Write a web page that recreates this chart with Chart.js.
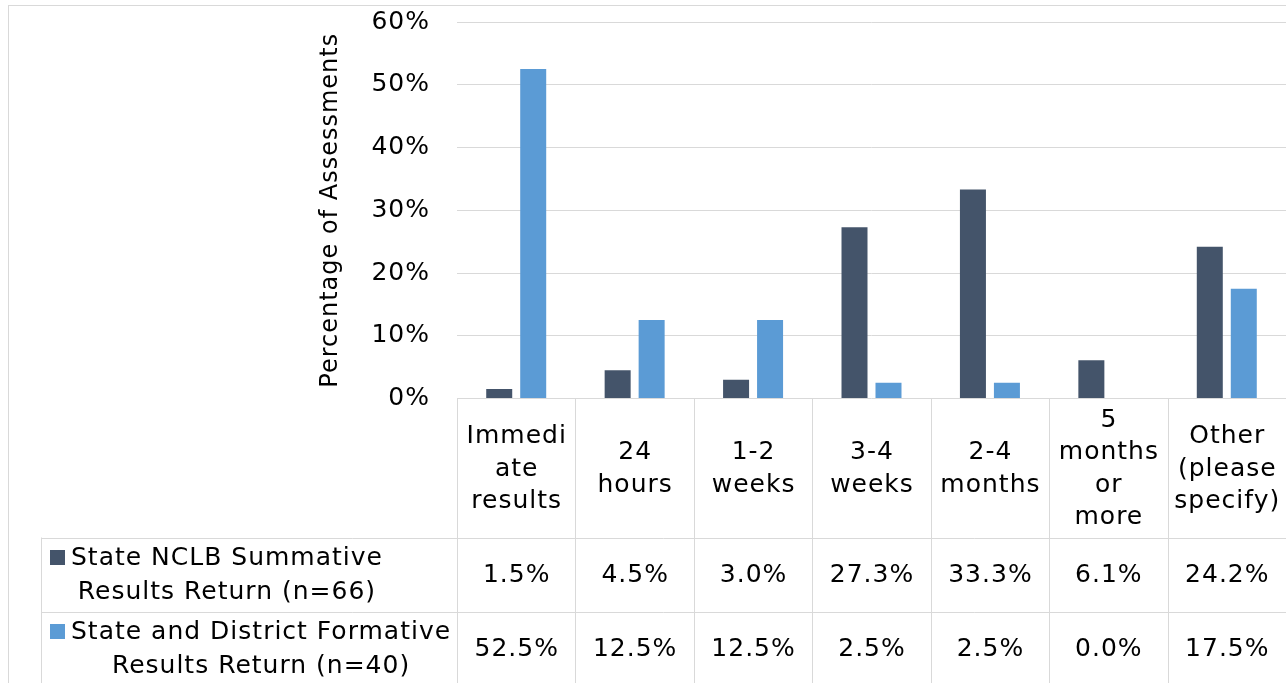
<!DOCTYPE html>
<html><head><meta charset="utf-8">
<script src="https://cdn.jsdelivr.net/npm/chart.js@4.4.1/dist/chart.umd.min.js"></script>
<style>html,body{margin:0;padding:0;background:#fff;overflow:hidden}#wrap{width:1286px;height:683px;position:relative}</style>
</head><body><div id="wrap"><canvas id="c" width="1286" height="683"></canvas></div>
<script>
const categories = [["Immedi","ate","results"],["24","hours"],["1-2","weeks"],["3-4","weeks"],["2-4","months"],["5","months","or","more"],["Other","(please","specify)"]];
const seriesNames = [["State NCLB Summative","Results Return (n=66)"],["State and District Formative","Results Return (n=40)"]];
const summativeValues = [1.5, 4.5, 3.0, 27.3, 33.3, 6.1, 24.2];
const formativeValues = [52.5, 12.5, 12.5, 2.5, 2.5, 0.0, 17.5];
const yTickValues = [0, 10, 20, 30, 40, 50, 60];
const yTitle = "Percentage of Assessments";
const seriesColors = ["#44546A", "#5B9BD5"];

const FONT = "DejaVu Sans";
const GRID = "#D9D9D9";
const seriesValues = [summativeValues, formativeValues];

const tablePlugin = {
  id: 'dataTable',
  beforeDraw(chart) {
    const ctx = chart.ctx;
    ctx.save();
    ctx.fillStyle = '#fff';
    ctx.fillRect(0, 0, chart.width, chart.height);
    ctx.strokeStyle = GRID; ctx.lineWidth = 1;
    ctx.strokeRect(8.5, 5.5, chart.width + 20, chart.height + 20);
    ctx.restore();
    try { ctx.letterSpacing = '1px'; } catch (e) {}
  },
  afterDraw(chart) {
    const ctx = chart.ctx, xs = chart.scales.x, area = chart.chartArea;
    const half = (xs.getPixelForValue(1) - xs.getPixelForValue(0)) / 2;
    const axisY = area.bottom;
    const row0H = 139, rowH = 74;
    const row1Top = axisY + row0H;
    const row2Top = row1Top + rowH;
    const legendLeft = 41;
    const px = v => Math.round(v) + 0.5;
    ctx.save();
    try { ctx.letterSpacing = '1px'; } catch (e) {}
    ctx.strokeStyle = GRID; ctx.lineWidth = 1;
    ctx.beginPath();
    for (let i = 0; i <= categories.length; i++) {
      const bx = px(xs.getPixelForValue(i) - half);
      ctx.moveTo(bx, axisY); ctx.lineTo(bx, chart.height);
    }
    ctx.moveTo(px(legendLeft), row1Top); ctx.lineTo(px(legendLeft), chart.height);
    [row1Top, row2Top].forEach(y => { ctx.moveTo(legendLeft, px(y)); ctx.lineTo(chart.width, px(y)); });
    ctx.stroke();

    ctx.font = `25px "${FONT}"`;
    ctx.fillStyle = '#000';
    ctx.textBaseline = 'middle';
    ctx.textAlign = 'center';

    // category labels
    const catLH = 32.5;
    const row0C = axisY + row0H / 2 + 1;
    categories.forEach((lines, i) => {
      const cx = xs.getPixelForValue(i) + 0.5;
      const start = row0C - (lines.length - 1) * catLH / 2;
      lines.forEach((t, k) => ctx.fillText(t, cx, start + k * catLH));
    });

    seriesValues.forEach((vals, s) => {
      const cy = (s === 0 ? row1Top : row2Top) + rowH / 2;
      ctx.textAlign = 'center';
      ctx.fillStyle = '#000';
      vals.forEach((v, i) => {
        ctx.fillText(v.toFixed(1) + '%', xs.getPixelForValue(i) + 0.5, cy + 1);
      });
      const lines = seriesNames[s];
      const lh = 33.5;
      const firstY = cy - lh / 2;
      ctx.fillStyle = seriesColors[s];
      ctx.fillRect(50, Math.round(firstY - 8), 15, 15);
      const maxW = Math.max(...lines.map(t => ctx.measureText(t).width));
      const blockCenter = 71 + maxW / 2;
      ctx.fillStyle = '#000';
      lines.forEach((t, k) => ctx.fillText(t, blockCenter, firstY + k * lh + 1));
    });
    ctx.restore();
  }
};

new Chart(document.getElementById('c'), {
  type: 'bar',
  data: {
    labels: categories.map(l => l.join(' ')),
    datasets: [
      { label: seriesNames[0].join(' '), data: summativeValues, backgroundColor: seriesColors[0], barPercentage: 0.765, categoryPercentage: 0.574 },
      { label: seriesNames[1].join(' '), data: formativeValues, backgroundColor: seriesColors[1], barPercentage: 0.765, categoryPercentage: 0.574 }
    ]
  },
  options: {
    responsive: false,
    animation: false,
    devicePixelRatio: 1,
    layout: { padding: { top: 22, left: 0, right: 0, bottom: 0 } },
    plugins: { legend: { display: false }, tooltip: { enabled: false } },
    scales: {
      x: {
        grid: { display: false, drawTicks: false },
        border: { display: false },
        ticks: { display: false },
        afterFit(s) { s.height = 683 - 398.5; s.paddingLeft = 0; s.paddingRight = 0; }
      },
      y: {
        min: 0, max: 60,
        afterBuildTicks(s) { s.ticks = yTickValues.map(v => ({ value: v })); },
        grid: { color: GRID, drawTicks: false, lineWidth: 1 },
        border: { display: false },
        ticks: {
          font: { family: FONT, size: 25 }, color: '#000', padding: 27,
          callback: v => v + '%'
        },
        title: {
          display: true, text: yTitle, color: '#000',
          font: { family: FONT, size: 24, lineHeight: 1.2 },
          padding: { top: 316, bottom: 0 }
        },
        afterFit(s) { s.width = 457; s.paddingTop = 0; s.paddingBottom = 0; }
      }
    }
  },
  plugins: [tablePlugin]
});
</script>
</body></html>
